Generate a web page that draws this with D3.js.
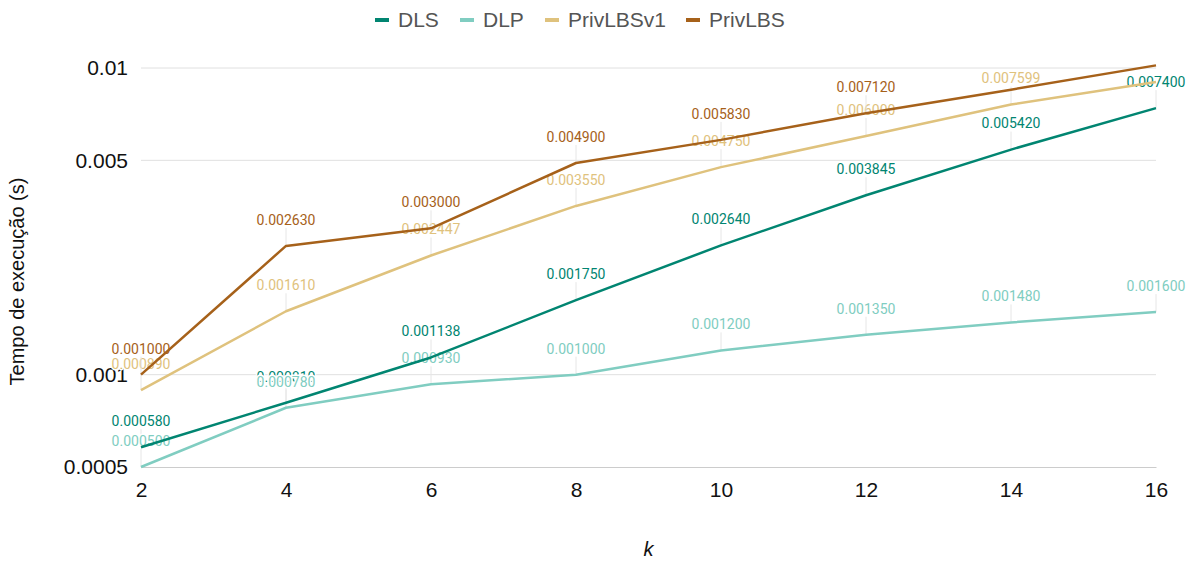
<!DOCTYPE html>
<html>
<head>
<meta charset="utf-8">
<script src="https://cdn.jsdelivr.net/npm/d3@7"></script>
<style>
  html, body { margin: 0; padding: 0; background: #fff; }
  svg { display: block; }
</style>
</head>
<body>
<svg id="chart" width="1198" height="561"></svg>
<script>
// k values on the x axis
const kValues = [2, 4, 6, 8, 10, 12, 14, 16];

// execution time (s) per series
const dls       = [0.000580, 0.000810, 0.001138, 0.001750, 0.002640, 0.003845, 0.005420, 0.007400];
const dlp       = [0.000500, 0.000780, 0.000930, 0.001000, 0.001200, 0.001350, 0.001480, 0.001600];
const privLBSv1 = [0.000890, 0.001610, 0.002447, 0.003550, 0.004750, 0.006000, 0.007599, 0.009000];
const privLBS   = [0.001000, 0.002630, 0.003000, 0.004900, 0.005830, 0.007120, 0.008500, 0.010200];

const seriesNames = ["DLS", "DLP", "PrivLBSv1", "PrivLBS"];
const seriesColors = ["#018571", "#80cdc1", "#dfc27d", "#a6611a"];
const yTickValues = [0.0005, 0.001, 0.005, 0.01];
const yTickLabels = ["0.0005", "0.001", "0.005", "0.01"];

const seriesValues = [dls, dlp, privLBSv1, privLBS];
const series = seriesNames.map((name, i) => ({
  name, color: seriesColors[i],
  points: kValues.map((k, j) => ({ k, v: seriesValues[i][j] }))
}));

const svg = d3.select("#chart");
const plotLeft = 141, plotRight = 1156, plotTop = 68, plotBottom = 467;

const x = d3.scaleLinear().domain([2, 16]).range([plotLeft, plotRight]);
const y = d3.scaleLog().domain([0.0005, 0.01]).range([plotBottom, plotTop]);

const axisFont = "'Liberation Sans', Arial, sans-serif";
const labelFont = "Roboto, 'Noto Sans', sans-serif";

// horizontal grid lines
svg.append("g").selectAll("line")
  .data(yTickValues.filter(v => v !== 0.0005))
  .join("line")
  .attr("x1", plotLeft).attr("x2", plotRight)
  .attr("y1", d => y(d)).attr("y2", d => y(d))
  .attr("stroke", "#e0e0e0").attr("stroke-width", 1);

// y axis labels
const yAxis = svg.append("g")
  .attr("transform", `translate(${plotLeft},0)`)
  .call(d3.axisLeft(y).tickValues(yTickValues)
    .tickFormat((d, i) => yTickLabels[i]).tickSize(0).tickPadding(13));
yAxis.select(".domain").remove();
yAxis.selectAll("text")
  .attr("font-family", axisFont).attr("font-size", 21).attr("fill", "#111");

// x axis
const xAxis = svg.append("g")
  .attr("transform", `translate(0,${plotBottom})`)
  .call(d3.axisBottom(x).tickValues(kValues).tickSize(0).tickPadding(15));
xAxis.select(".domain").attr("stroke", "#cccccc");
xAxis.selectAll("text")
  .attr("font-family", axisFont).attr("font-size", 21).attr("fill", "#111");

// axis titles
svg.append("text")
  .attr("x", (plotLeft + plotRight) / 2).attr("y", 556)
  .attr("text-anchor", "middle")
  .attr("font-family", axisFont).attr("font-size", 20)
  .attr("font-style", "italic").attr("fill", "#111")
  .text("k");

svg.append("text")
  .attr("transform", `translate(24,${(plotTop + plotBottom) / 2 + 14}) rotate(-90)`)
  .attr("text-anchor", "middle")
  .attr("font-family", axisFont).attr("font-size", 20).attr("fill", "#111")
  .text("Tempo de execução (s)");

// value labels with connector stems (hidden when they would sit above the plot)
const labelOffset = 26;
const labelLayer = svg.append("g");
series.forEach(s => {
  const visible = s.points.filter(p => y(p.v) - labelOffset >= plotTop);
  labelLayer.append("g").selectAll("line")
    .data(visible).join("line")
    .attr("x1", p => x(p.k)).attr("x2", p => x(p.k))
    .attr("y1", p => y(p.v)).attr("y2", p => y(p.v) - labelOffset + 8)
    .attr("stroke", "#e6e6e6").attr("stroke-width", 1);
  labelLayer.append("g").selectAll("text")
    .data(visible).join("text")
    .attr("x", p => x(p.k)).attr("y", p => y(p.v) - labelOffset)
    .attr("dy", "0.35em")
    .attr("text-anchor", "middle")
    .attr("font-family", labelFont).attr("font-size", 14)
    .attr("fill", s.color)
    .attr("stroke", "#fff").attr("stroke-width", 3)
    .attr("paint-order", "stroke")
    .text(p => p.v.toFixed(6));
});

// series lines
const line = d3.line().x(p => x(p.k)).y(p => y(p.v));
svg.append("g").selectAll("path")
  .data(series).join("path")
  .attr("d", s => line(s.points))
  .attr("fill", "none")
  .attr("stroke", s => s.color)
  .attr("stroke-width", 2.5)
  .attr("stroke-linejoin", "round");

// legend
const legendX = [375, 460, 545, 686];
const legend = svg.append("g");
series.forEach((s, i) => {
  legend.append("rect")
    .attr("x", legendX[i]).attr("y", 18)
    .attr("width", 14).attr("height", 4)
    .attr("fill", s.color);
  legend.append("text")
    .attr("x", legendX[i] + 23).attr("y", 20).attr("dy", "0.35em")
    .attr("font-family", axisFont).attr("font-size", 21)
    .attr("fill", "#555")
    .text(s.name);
});
</script>
</body>
</html>
